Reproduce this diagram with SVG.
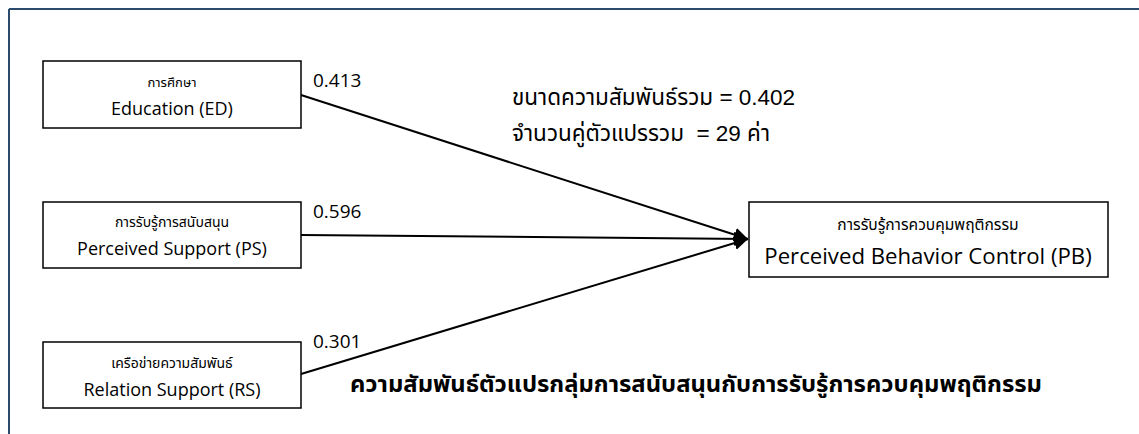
<svg xmlns="http://www.w3.org/2000/svg" width="1139" height="434" viewBox="0 0 1139 434">
<style>
.box{fill:#fff;stroke:#000;stroke-width:1.5}
.th{font-family:"Noto Sans","Noto Sans Thai","DejaVu Sans",sans-serif;font-size:14px;text-anchor:middle;fill:#000}
.en{font-family:"Open Sans","Liberation Sans",sans-serif;font-size:18px;text-anchor:middle;fill:#000}
.num{font-family:"Open Sans","Liberation Sans",sans-serif;font-size:19px;fill:#000}
.stat{font-family:"Liberation Sans","Noto Sans Thai",sans-serif;font-size:22.5px;fill:#000}
.title{font-family:"Liberation Sans","Noto Sans Thai",sans-serif;font-size:23.8px;font-weight:bold;fill:#000}
.edge{stroke:#000;stroke-width:2;fill:none}
</style>
<defs>
<marker id="arrBig" viewBox="0 0 10 10" refX="10" refY="5" markerWidth="14" markerHeight="14" markerUnits="userSpaceOnUse" orient="auto">
<path d="M0,0 L10,5 L0,10 z" fill="#000"/>
</marker>
</defs>
<rect width="1139" height="434" fill="#fff"/>
<g id="frame">
<line x1="9" y1="9" x2="1139" y2="9" stroke="#2c4a6e" stroke-width="2"/>
<line x1="9" y1="9" x2="9" y2="434" stroke="#2c4a6e" stroke-width="2"/>
</g>
<g id="connectors">
<line class="edge" x1="301" y1="95" x2="748" y2="239" marker-end="url(#arrBig)"/>
<line class="edge" x1="301" y1="235" x2="748" y2="239" marker-end="url(#arrBig)"/>
<line class="edge" x1="301" y1="374" x2="748" y2="239" marker-end="url(#arrBig)"/>
<text class="num" x="313" y="87">0.413</text>
<text class="num" x="313" y="218">0.596</text>
<text class="num" x="313" y="348">0.301</text>
</g>
<g id="ED">
<rect class="box" x="43" y="61" width="258" height="67"/>
<text class="th" x="172" y="87" style="font-size:13px">การศึกษา</text>
<text class="en" x="172" y="115">Education (ED)</text>
</g>
<g id="PS">
<rect class="box" x="43" y="202" width="258" height="66"/>
<text class="th" x="172" y="227">การรับรู้การสนับสนุน</text>
<text class="en" x="172" y="255">Perceived Support (PS)</text>
</g>
<g id="RS">
<rect class="box" x="43" y="342" width="258" height="66"/>
<text class="th" x="172" y="368">เครือข่ายความสัมพันธ์</text>
<text class="en" x="172" y="396">Relation Support (RS)</text>
</g>
<g id="PB">
<rect class="box" x="749" y="202" width="359" height="75"/>
<text class="th" x="928" y="230" style="font-size:15.6px">การรับรู้การควบคุมพฤติกรรม</text>
<text class="en" x="928" y="264" style="font-size:22.2px">Perceived Behavior Control (PB)</text>
</g>
<g id="stats">
<text class="stat" x="512" y="105">ขนาดความสัมพันธ์รวม = 0.402</text>
<text class="stat" x="512" y="141" xml:space="preserve">จำนวนคู่ตัวแปรรวม  = 29 ค่า</text>
</g>
<g id="caption">
<text class="title" x="350" y="392">ความสัมพันธ์ตัวแปรกลุ่มการสนับสนุนกับการรับรู้การควบคุมพฤติกรรม</text>
</g>
</svg>
